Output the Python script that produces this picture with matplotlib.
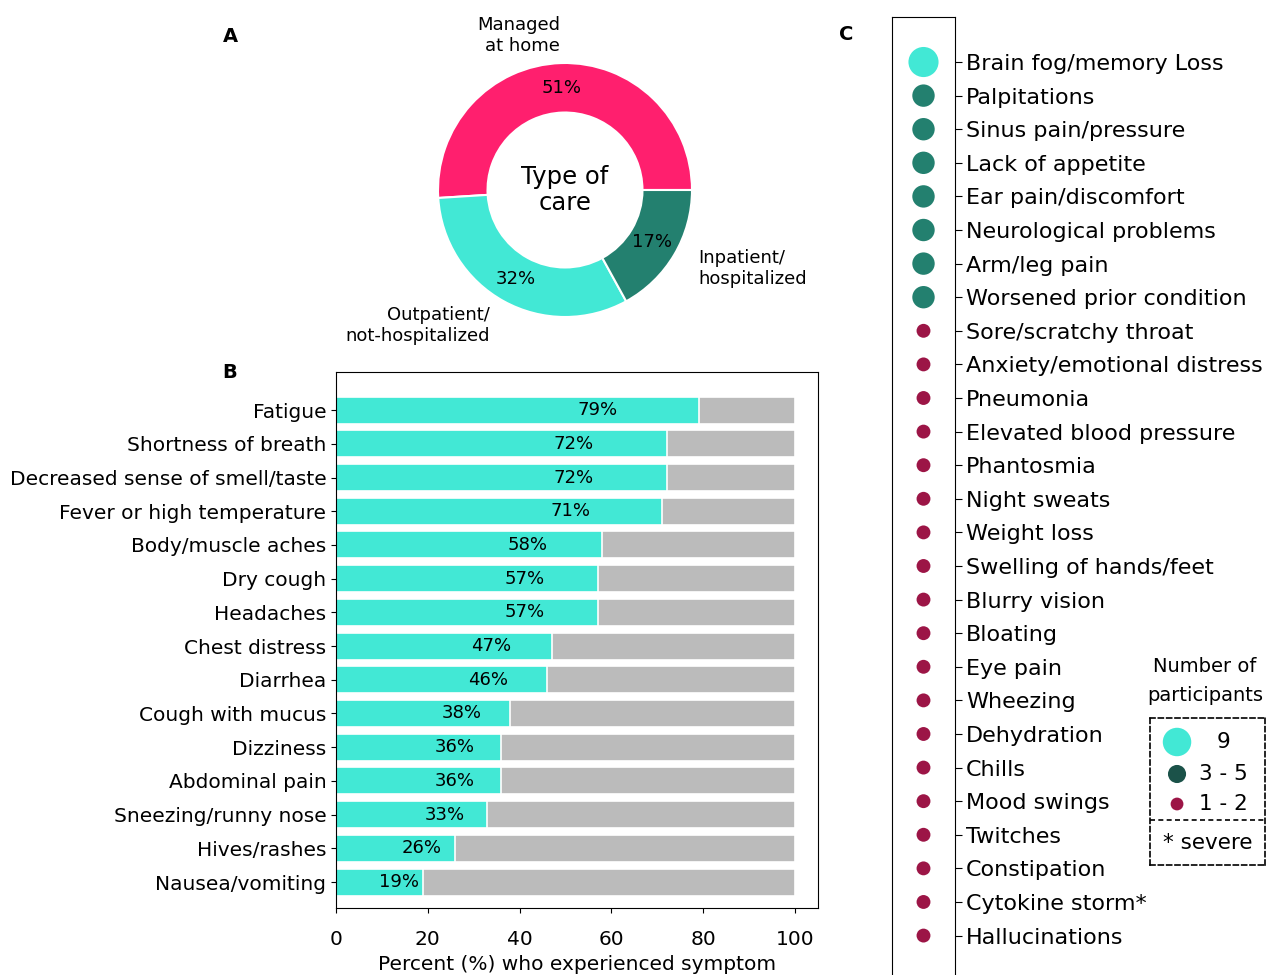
import matplotlib
matplotlib.use("Agg")
import matplotlib.pyplot as plt
import numpy as np

W, H = 1268, 975

# ---------------- data ----------------
care_labels = ["Managed\nat home", "Outpatient/\nnot-hospitalized", "Inpatient/\nhospitalized"]
care_values = [51, 32, 17]

symptoms_b = ["Fatigue", "Shortness of breath", "Decreased sense of smell/taste",
              "Fever or high temperature", "Body/muscle aches", "Dry cough", "Headaches",
              "Chest distress", "Diarrhea", "Cough with mucus", "Dizziness",
              "Abdominal pain", "Sneezing/runny nose", "Hives/rashes", "Nausea/vomiting"]
percent_b = [79, 72, 72, 71, 58, 57, 57, 47, 46, 38, 36, 36, 33, 26, 19]

symptoms_c = ["Brain fog/memory Loss", "Palpitations", "Sinus pain/pressure",
              "Lack of appetite", "Ear pain/discomfort", "Neurological problems",
              "Arm/leg pain", "Worsened prior condition", "Sore/scratchy throat",
              "Anxiety/emotional distress", "Pneumonia", "Elevated blood pressure",
              "Phantosmia", "Night sweats", "Weight loss", "Swelling of hands/feet",
              "Blurry vision", "Bloating", "Eye pain", "Wheezing", "Dehydration",
              "Chills", "Mood swings", "Twitches", "Constipation", "Cytokine storm*",
              "Hallucinations"]
count_group_c = [3, 2, 2, 2, 2, 2, 2, 2] + [1] * 19   # 3: 9 participants, 2: 3-5, 1: 1-2

legend_labels = ["9", "3 - 5", "1 - 2"]

# ---------------- styles ----------------
PINK = "#FF1F6E"
CYAN = "#42E8D5"
TEAL = "#23806F"
DARK = "#1B5249"
MAROON = "#9C1546"
GREY = "#BBBBBB"
group_color = {3: CYAN, 2: TEAL, 1: MAROON}
group_size = {3: 470, 2: 260, 1: 100}

fig = plt.figure(figsize=(W / 100, H / 100), dpi=100)

def fbox(x0, y0, x1, y1):
    return [x0 / W, 1 - y1 / H, (x1 - x0) / W, (y1 - y0) / H]

# ---------------- Panel A: donut ----------------
cx, cy, R = 565, 190, 127
axA = fig.add_axes(fbox(cx - R, cy - R, cx + R, cy + R))
wedges, texts, autotexts = axA.pie(
    care_values, labels=care_labels, colors=[PINK, CYAN, TEAL], startangle=0,
    counterclock=True, autopct="%d%%", pctdistance=0.8, labeldistance=1.22,
    wedgeprops=dict(width=0.39, edgecolor="white", linewidth=1.5),
    textprops=dict(fontsize=13))
for t in texts:
    t.set_fontsize(13)
for t in autotexts:
    t.set_fontsize(13)
axA.text(0, 0, "Type of\ncare", ha="center", va="center", fontsize=17.5, linespacing=1.1)
axA.set_xlim(-1, 1)
axA.set_ylim(-1, 1)
axA.set_aspect("equal")

# ---------------- Panel B: bars ----------------
axB = fig.add_axes(fbox(336, 372, 818, 908))
y = np.arange(len(symptoms_b))
axB.barh(y, [100] * len(y), color=GREY, height=0.8, edgecolor="white", linewidth=1.2)
axB.barh(y, percent_b, color=CYAN, height=0.8, edgecolor="white", linewidth=1.2)
for yi, v in zip(y, percent_b):
    axB.text(v * 0.72, yi, f"{v}%", ha="center", va="center", fontsize=13)
axB.set_yticks(y)
axB.set_yticklabels(symptoms_b, fontsize=14.5)
axB.set_xlim(0, 105)
axB.set_ylim(14.77, -1.13)
axB.set_xticks([0, 20, 40, 60, 80, 100])
axB.tick_params(axis="x", labelsize=14.5, pad=12)
axB.set_xlabel("Percent (%) who experienced symptom", fontsize=14.5, labelpad=5)

# ---------------- Panel C: dot column ----------------
axC = fig.add_axes(fbox(892, 17, 955, 990))
yc = np.arange(len(symptoms_c))
axC.scatter([0.5] * len(yc), yc, s=[group_size[g] for g in count_group_c],
            c=[group_color[g] for g in count_group_c], edgecolors="none", clip_on=False)
axC.set_xlim(0, 1)
axC.set_ylim(27.62, -1.34)
axC.set_xticks([])
axC.set_yticks(yc)
axC.set_yticklabels(symptoms_c, fontsize=16)
axC.yaxis.tick_right()
axC.tick_params(axis="y", direction="out", length=5, pad=3)

# ---------------- Legend for C ----------------
fig.text(1205 / W, 1 - 681 / H, "Number of\nparticipants", ha="center", va="center",
         fontsize=14, linespacing=1.65)
axL = fig.add_axes(fbox(1150, 718, 1265, 865))
axL.set_xlim(0, 1)
axL.set_ylim(865, 718)
for sp in axL.spines.values():
    sp.set_linestyle((0, (3, 2)))
    sp.set_linewidth(1.2)
axL.set_xticks([])
axL.set_yticks([])
leg_y = [742, 774, 804]
leg_s = [420, 170, 85]
leg_c = [CYAN, DARK, MAROON]
axL.scatter([0.235] * 3, leg_y, s=leg_s, c=leg_c, edgecolors="none")
for yy, lab in zip(leg_y, legend_labels):
    axL.text(0.64, yy, lab, ha="center", va="center", fontsize=15.5)
axL.axhline(820, color="black", linestyle=(0, (3, 2)), linewidth=1.2)
axL.text(0.5, 843, "* severe", ha="center", va="center", fontsize=15.5)

# ---------------- panel letters ----------------
fig.text(230 / W, 1 - 37 / H, "A", fontsize=14, fontweight="bold", ha="center", va="center")
fig.text(230 / W, 1 - 372 / H, "B", fontsize=14, fontweight="bold", ha="center", va="center")
fig.text(846 / W, 1 - 35 / H, "C", fontsize=14, fontweight="bold", ha="center", va="center")

fig.savefig("out.png", dpi=100)
